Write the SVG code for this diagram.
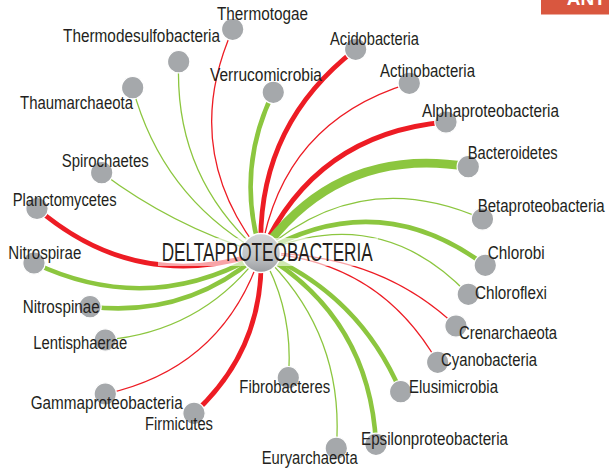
<svg xmlns="http://www.w3.org/2000/svg" width="609" height="468" viewBox="0 0 609 468">
<style>
.c path{fill:none;stroke-linecap:butt}
.r{stroke:#ed1c24;stroke-width:1.3}
.rt{stroke:#ed1c24;stroke-width:4.8}
.g{stroke:#8cc63f;stroke-width:1.3}
.gt{stroke:#8cc63f;stroke-width:4.6}
.gx{stroke:#8cc63f;stroke-width:8.5}
.n circle{fill:#a5a8ab;stroke:#fff;stroke-width:1.2}
.n text,.lbl{font-family:"Liberation Sans",Arial,sans-serif;font-size:17.5px;fill:#231f20}
</style>
<defs>
<linearGradient id="cg" x1="0" y1="0" x2="0" y2="1">
<stop offset="0" stop-color="#d3d4d6"/>
<stop offset="0.55" stop-color="#c4c6c8"/>
<stop offset="1" stop-color="#9a9da1"/>
</linearGradient>
</defs>
<rect x="541" y="-6" width="70" height="20.5" fill="#d9573f"/>
<text x="566.7" y="5" textLength="39" lengthAdjust="spacingAndGlyphs" font-family="Liberation Sans, sans-serif" font-weight="bold" font-size="18" fill="#fff">ANT</text>
<g id="connectors" class="c">
<path class="r" d="M261,253 Q179.4,149.7 232.7,29.3"/>
<path class="g" d="M261,253 Q174,177.1 178.7,61.7"/>
<path class="g" d="M261,253 Q162.1,197.3 132.7,87.7"/>
<path class="gt" d="M261,253 Q235.2,170.2 273.3,92.3"/>
<path class="rt" d="M261,253 Q255.7,126.7 355.7,49.3"/>
<path class="r" d="M261,253 Q282.4,122.1 409.3,83.3"/>
<path class="rt" d="M261,253 Q315.4,133.6 446,122"/>
<path class="gx" d="M261,253 Q337.8,145.2 468.3,166.7"/>
<path class="g" d="M261,253 Q360.8,164.9 482.5,219"/>
<path class="gt" d="M261,253 Q377.2,185.2 485.3,265.3"/>
<path class="g" d="M261,253 Q379.1,201.1 468.3,294.3"/>
<path class="r" d="M261,253 Q379.6,253.3 456,326"/>
<path class="r" d="M261,253 Q378.8,260 437.7,362.3"/>
<path class="gt" d="M261,253 Q359,294 400.7,391.7"/>
<path class="gt" d="M261,253 Q369.9,317.7 376,444.3"/>
<path class="g" d="M261,253 Q345.3,332.7 336.3,448.3"/>
<path class="g" d="M261,253 Q294.2,311.1 288.3,377.7"/>
<path class="rt" d="M261,253 Q264.4,348.6 194,413.3"/>
<path class="r" d="M261,253 Q223.4,368 105.3,394"/>
<path class="g" d="M261,253 Q202.7,331.4 105.3,340"/>
<path class="gt" d="M261,253 Q187.5,318 90,306.7"/>
<path class="gt" d="M261,253 Q150.1,318 34,263"/>
<path class="rt" d="M261,253 Q136.5,293.5 37,208.5"/>
<path class="g" d="M261,253 Q174.2,227.1 101.7,172.7"/>
</g>
<g id="node-thermotogae" class="n"><circle cx="232.7" cy="29.3" r="11.2"/><text x="217" y="20" textLength="91" lengthAdjust="spacingAndGlyphs">Thermotogae</text></g>
<g id="node-thermodesulfobacteria" class="n"><circle cx="178.7" cy="61.7" r="11.2"/><text x="63" y="42" textLength="157" lengthAdjust="spacingAndGlyphs">Thermodesulfobacteria</text></g>
<g id="node-thaumarchaeota" class="n"><circle cx="132.7" cy="87.7" r="11.2"/><text x="20" y="108.5" textLength="113" lengthAdjust="spacingAndGlyphs">Thaumarchaeota</text></g>
<g id="node-verrucomicrobia" class="n"><circle cx="273.3" cy="92.3" r="11.2"/><text x="210" y="81" textLength="112" lengthAdjust="spacingAndGlyphs">Verrucomicrobia</text></g>
<g id="node-acidobacteria" class="n"><circle cx="355.7" cy="49.3" r="11.2"/><text x="330" y="45" textLength="89" lengthAdjust="spacingAndGlyphs">Acidobacteria</text></g>
<g id="node-actinobacteria" class="n"><circle cx="409.3" cy="83.3" r="11.2"/><text x="380" y="77" textLength="95" lengthAdjust="spacingAndGlyphs">Actinobacteria</text></g>
<g id="node-alphaproteobacteria" class="n"><circle cx="446" cy="122" r="11.2"/><text x="422" y="117" textLength="137" lengthAdjust="spacingAndGlyphs">Alphaproteobacteria</text></g>
<g id="node-bacteroidetes" class="n"><circle cx="468.3" cy="166.7" r="11.2"/><text x="467.7" y="159" textLength="90" lengthAdjust="spacingAndGlyphs">Bacteroidetes</text></g>
<g id="node-betaproteobacteria" class="n"><circle cx="482.5" cy="219" r="11.2"/><text x="477.7" y="212" textLength="127" lengthAdjust="spacingAndGlyphs">Betaproteobacteria</text></g>
<g id="node-chlorobi" class="n"><circle cx="485.3" cy="265.3" r="11.2"/><text x="487.7" y="259.3" textLength="57" lengthAdjust="spacingAndGlyphs">Chlorobi</text></g>
<g id="node-chloroflexi" class="n"><circle cx="468.3" cy="294.3" r="11.2"/><text x="475" y="299.3" textLength="72" lengthAdjust="spacingAndGlyphs">Chloroflexi</text></g>
<g id="node-crenarchaeota" class="n"><circle cx="456" cy="326" r="11.2"/><text x="459" y="339.3" textLength="98" lengthAdjust="spacingAndGlyphs">Crenarchaeota</text></g>
<g id="node-cyanobacteria" class="n"><circle cx="437.7" cy="362.3" r="11.2"/><text x="441" y="365.7" textLength="96" lengthAdjust="spacingAndGlyphs">Cyanobacteria</text></g>
<g id="node-elusimicrobia" class="n"><circle cx="400.7" cy="391.7" r="11.2"/><text x="409" y="392.7" textLength="89" lengthAdjust="spacingAndGlyphs">Elusimicrobia</text></g>
<g id="node-epsilonproteobacteria" class="n"><circle cx="376" cy="444.3" r="11.2"/><text x="361" y="445" textLength="147" lengthAdjust="spacingAndGlyphs">Epsilonproteobacteria</text></g>
<g id="node-euryarchaeota" class="n"><circle cx="336.3" cy="448.3" r="11.2"/><text x="261.7" y="463.5" textLength="96" lengthAdjust="spacingAndGlyphs">Euryarchaeota</text></g>
<g id="node-fibrobacteres" class="n"><circle cx="288.3" cy="377.7" r="11.2"/><text x="239.3" y="392.7" textLength="91" lengthAdjust="spacingAndGlyphs">Fibrobacteres</text></g>
<g id="node-firmicutes" class="n"><circle cx="194" cy="413.3" r="11.2"/><text x="145" y="430" textLength="68" lengthAdjust="spacingAndGlyphs">Firmicutes</text></g>
<g id="node-gammaproteobacteria" class="n"><circle cx="105.3" cy="394" r="11.2"/><text x="30.7" y="409" textLength="152" lengthAdjust="spacingAndGlyphs">Gammaproteobacteria</text></g>
<g id="node-lentisphaerae" class="n"><circle cx="105.3" cy="340" r="11.2"/><text x="33.3" y="349.3" textLength="94" lengthAdjust="spacingAndGlyphs">Lentisphaerae</text></g>
<g id="node-nitrospinae" class="n"><circle cx="90" cy="306.7" r="11.2"/><text x="22.7" y="312.7" textLength="77" lengthAdjust="spacingAndGlyphs">Nitrospinae</text></g>
<g id="node-nitrospirae" class="n"><circle cx="34" cy="263" r="11.2"/><text x="8.3" y="259" textLength="73" lengthAdjust="spacingAndGlyphs">Nitrospirae</text></g>
<g id="node-planctomycetes" class="n"><circle cx="37" cy="208.5" r="11.2"/><text x="12.7" y="205.7" textLength="104" lengthAdjust="spacingAndGlyphs">Planctomycetes</text></g>
<g id="node-spirochaetes" class="n"><circle cx="101.7" cy="172.7" r="11.2"/><text x="61.7" y="167.3" textLength="87" lengthAdjust="spacingAndGlyphs">Spirochaetes</text></g>
<g id="node-deltaproteobacteria">
<rect x="158" y="238" width="220" height="28" fill="#fff" fill-opacity="0.6"/>
<circle cx="261" cy="253" r="19.5" fill="url(#cg)" stroke="#fff" stroke-width="1.5"/>
<text x="161.7" y="261" textLength="211" lengthAdjust="spacingAndGlyphs" class="lbl" style="font-size:25.5px">DELTAPROTEOBACTERIA</text>
</g>
</svg>
